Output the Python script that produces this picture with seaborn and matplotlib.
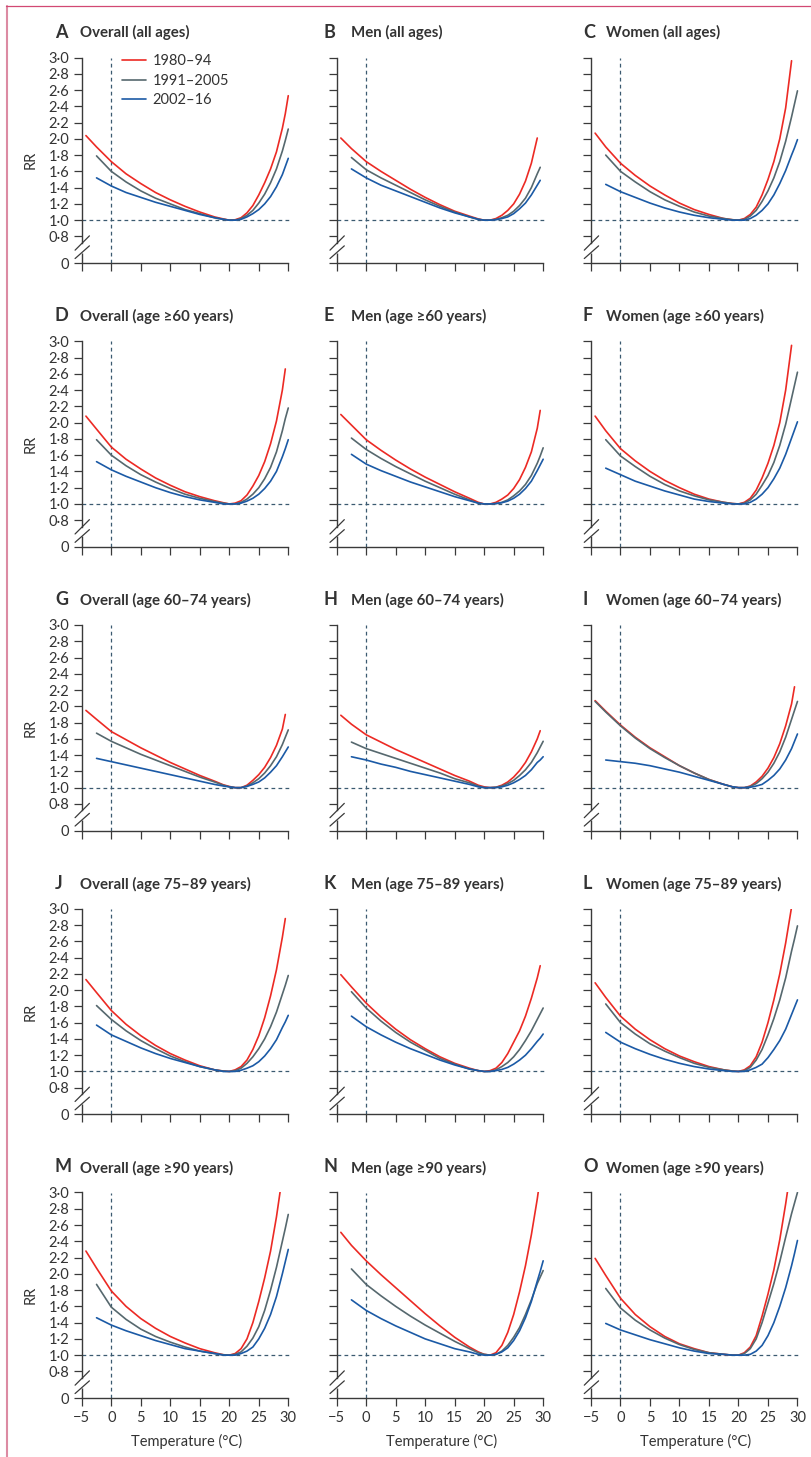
import numpy as np
import pandas as pd
import matplotlib.pyplot as plt
import matplotlib.lines as mlines
import seaborn as sns

nan = np.nan

# temperature grid (°C) the curves were read at
temps = [-4.3, -2.5, 0, 2.5, 5, 7.5, 10, 12.5, 15, 17.5, 19, 20, 21, 22, 23, 24, 25, 26, 27, 28, 29, 29.5, 30]
periods = ["1980–94", "1991–2005", "2002–16"]
colours = ["#ec2a24", "#56686e", "#1b5aa6"]

letters = list("ABCDEFGHIJKLMNO")
titles = [
    "Overall (all ages)", "Men (all ages)", "Women (all ages)",
    "Overall (age ≥60 years)", "Men (age ≥60 years)", "Women (age ≥60 years)",
    "Overall (age 60–74 years)", "Men (age 60–74 years)", "Women (age 60–74 years)",
    "Overall (age 75–89 years)", "Men (age 75–89 years)", "Women (age 75–89 years)",
    "Overall (age ≥90 years)", "Men (age ≥90 years)", "Women (age ≥90 years)",
]

# relative risk per period: [1980-94, 1991-2005, 2002-16]
rr_A = [
    [2.04, 1.90, 1.72, 1.57, 1.45, 1.34, 1.25, 1.17, 1.10, 1.04, 1.015, 1.00, 1.005, 1.03, 1.09, 1.18, 1.31, 1.46, 1.63, 1.84, 2.13, 2.31, 2.53],
    [nan, 1.79, 1.60, 1.47, 1.36, 1.27, 1.20, 1.13, 1.08, 1.03, 1.01, 1.00, 1.00, 1.02, 1.06, 1.12, 1.21, 1.32, 1.46, 1.63, 1.85, 1.98, 2.12],
    [nan, 1.52, 1.42, 1.34, 1.28, 1.22, 1.17, 1.12, 1.07, 1.03, 1.01, 1.00, 1.00, 1.01, 1.04, 1.08, 1.13, 1.20, 1.29, 1.41, 1.56, 1.66, 1.76],
]
rr_B = [
    [2.01, 1.88, 1.72, 1.60, 1.49, 1.38, 1.28, 1.19, 1.11, 1.05, 1.015, 1.00, 1.00, 1.02, 1.06, 1.12, 1.20, 1.32, 1.48, 1.70, 2.01, nan, nan],
    [nan, 1.77, 1.62, 1.52, 1.43, 1.34, 1.25, 1.17, 1.10, 1.04, 1.01, 1.00, 1.00, 1.01, 1.03, 1.06, 1.11, 1.18, 1.27, 1.40, 1.57, 1.65, nan],
    [nan, 1.63, 1.52, 1.43, 1.36, 1.29, 1.22, 1.15, 1.09, 1.04, 1.01, 1.00, 1.00, 1.005, 1.02, 1.04, 1.08, 1.14, 1.21, 1.31, 1.43, 1.49, nan],
]
rr_C = [
    [2.07, 1.90, 1.70, 1.55, 1.42, 1.31, 1.21, 1.13, 1.07, 1.02, 1.005, 1.00, 1.02, 1.07, 1.16, 1.31, 1.50, 1.72, 2.00, 2.38, 2.96, nan, nan],
    [nan, 1.80, 1.60, 1.47, 1.35, 1.25, 1.17, 1.10, 1.05, 1.02, 1.005, 1.00, 1.01, 1.05, 1.12, 1.23, 1.36, 1.52, 1.72, 1.97, 2.27, 2.43, 2.59],
    [nan, 1.44, 1.35, 1.28, 1.21, 1.15, 1.10, 1.06, 1.03, 1.01, 1.00, 1.00, 1.00, 1.02, 1.06, 1.12, 1.20, 1.31, 1.45, 1.61, 1.80, 1.89, 1.99],
]
rr_D = [
    [2.08, 1.92, 1.70, 1.55, 1.43, 1.32, 1.23, 1.15, 1.09, 1.04, 1.015, 1.00, 1.01, 1.04, 1.11, 1.22, 1.35, 1.52, 1.74, 2.02, 2.40, 2.66, nan],
    [nan, 1.79, 1.60, 1.47, 1.36, 1.27, 1.19, 1.12, 1.07, 1.03, 1.01, 1.00, 1.00, 1.02, 1.06, 1.12, 1.20, 1.31, 1.45, 1.64, 1.90, 2.05, 2.18],
    [nan, 1.52, 1.42, 1.34, 1.27, 1.20, 1.14, 1.09, 1.05, 1.02, 1.00, 1.00, 1.00, 1.01, 1.035, 1.07, 1.12, 1.19, 1.28, 1.40, 1.58, 1.68, 1.79],
]
rr_E = [
    [2.10, 1.97, 1.79, 1.66, 1.54, 1.43, 1.33, 1.24, 1.15, 1.07, 1.02, 1.00, 1.00, 1.02, 1.06, 1.11, 1.19, 1.30, 1.45, 1.64, 1.93, 2.15, nan],
    [nan, 1.81, 1.67, 1.56, 1.46, 1.37, 1.28, 1.20, 1.12, 1.05, 1.01, 1.00, 1.00, 1.005, 1.02, 1.05, 1.10, 1.16, 1.24, 1.35, 1.50, 1.59, 1.69],
    [nan, 1.61, 1.49, 1.41, 1.34, 1.27, 1.21, 1.15, 1.09, 1.04, 1.01, 1.00, 1.00, 1.005, 1.015, 1.035, 1.07, 1.12, 1.19, 1.28, 1.41, 1.48, 1.55],
]
rr_F = [
    [2.08, 1.90, 1.68, 1.53, 1.40, 1.29, 1.20, 1.12, 1.06, 1.02, 1.005, 1.00, 1.02, 1.07, 1.17, 1.32, 1.50, 1.72, 2.00, 2.40, 2.95, nan, nan],
    [nan, 1.79, 1.59, 1.46, 1.34, 1.24, 1.16, 1.10, 1.05, 1.02, 1.005, 1.00, 1.01, 1.05, 1.12, 1.23, 1.35, 1.51, 1.72, 1.98, 2.30, 2.46, 2.62],
    [nan, 1.44, 1.36, 1.28, 1.22, 1.16, 1.11, 1.06, 1.03, 1.01, 1.00, 1.00, 1.00, 1.02, 1.06, 1.12, 1.20, 1.31, 1.44, 1.61, 1.81, 1.91, 2.01],
]
rr_G = [
    [1.95, 1.84, 1.69, 1.59, 1.49, 1.40, 1.31, 1.23, 1.15, 1.08, 1.035, 1.015, 1.00, 1.00, 1.03, 1.09, 1.16, 1.25, 1.37, 1.52, 1.72, 1.90, nan],
    [nan, 1.67, 1.57, 1.49, 1.41, 1.34, 1.27, 1.20, 1.13, 1.07, 1.03, 1.01, 1.00, 1.00, 1.02, 1.06, 1.11, 1.18, 1.27, 1.38, 1.53, 1.62, 1.71],
    [nan, 1.36, 1.32, 1.28, 1.24, 1.20, 1.16, 1.12, 1.08, 1.04, 1.02, 1.01, 1.00, 1.00, 1.015, 1.04, 1.07, 1.12, 1.19, 1.27, 1.38, 1.44, 1.50],
]
rr_H = [
    [1.89, 1.78, 1.65, 1.56, 1.47, 1.39, 1.31, 1.23, 1.15, 1.08, 1.03, 1.01, 1.00, 1.005, 1.03, 1.07, 1.13, 1.21, 1.31, 1.44, 1.60, 1.70, nan],
    [nan, 1.56, 1.48, 1.42, 1.36, 1.30, 1.24, 1.18, 1.11, 1.06, 1.02, 1.00, 1.00, 1.005, 1.02, 1.05, 1.09, 1.15, 1.22, 1.31, 1.43, 1.50, 1.57],
    [nan, 1.38, 1.34, 1.29, 1.25, 1.20, 1.16, 1.12, 1.08, 1.04, 1.01, 1.00, 1.00, 1.00, 1.01, 1.03, 1.06, 1.10, 1.15, 1.22, 1.31, 1.34, 1.38],
]
rr_I = [
    [2.07, 1.94, 1.77, 1.62, 1.49, 1.38, 1.27, 1.18, 1.10, 1.04, 1.01, 1.00, 1.00, 1.02, 1.07, 1.14, 1.24, 1.37, 1.54, 1.76, 2.03, 2.24, nan],
    [2.06, 1.93, 1.76, 1.61, 1.48, 1.37, 1.27, 1.18, 1.10, 1.04, 1.01, 1.00, 1.00, 1.015, 1.05, 1.11, 1.19, 1.30, 1.44, 1.62, 1.84, 1.95, 2.06],
    [nan, 1.34, 1.32, 1.30, 1.27, 1.23, 1.19, 1.14, 1.09, 1.04, 1.01, 1.00, 1.00, 1.005, 1.02, 1.04, 1.09, 1.15, 1.23, 1.34, 1.48, 1.57, 1.66],
]
rr_J = [
    [2.13, 1.97, 1.75, 1.58, 1.44, 1.32, 1.22, 1.14, 1.07, 1.02, 1.005, 1.00, 1.02, 1.06, 1.14, 1.27, 1.44, 1.66, 1.93, 2.25, 2.65, 2.88, nan],
    [nan, 1.81, 1.64, 1.50, 1.38, 1.28, 1.19, 1.12, 1.06, 1.02, 1.005, 1.00, 1.01, 1.04, 1.10, 1.18, 1.28, 1.40, 1.55, 1.73, 1.95, 2.06, 2.18],
    [nan, 1.57, 1.45, 1.37, 1.29, 1.22, 1.16, 1.11, 1.06, 1.02, 1.00, 1.00, 1.00, 1.015, 1.04, 1.07, 1.12, 1.19, 1.28, 1.39, 1.54, 1.61, 1.69],
]
rr_K = [
    [2.19, 2.04, 1.84, 1.67, 1.52, 1.39, 1.28, 1.18, 1.10, 1.04, 1.01, 1.00, 1.01, 1.04, 1.11, 1.22, 1.36, 1.50, 1.68, 1.90, 2.15, 2.30, nan],
    [nan, 1.98, 1.78, 1.62, 1.48, 1.36, 1.26, 1.16, 1.09, 1.03, 1.01, 1.00, 1.00, 1.02, 1.06, 1.11, 1.18, 1.27, 1.38, 1.50, 1.64, 1.71, 1.78],
    [nan, 1.68, 1.55, 1.45, 1.36, 1.28, 1.21, 1.14, 1.08, 1.03, 1.01, 1.00, 1.00, 1.01, 1.025, 1.05, 1.09, 1.14, 1.20, 1.28, 1.37, 1.41, 1.46],
]
rr_L = [
    [2.09, 1.91, 1.68, 1.52, 1.39, 1.28, 1.19, 1.12, 1.06, 1.02, 1.005, 1.00, 1.02, 1.07, 1.18, 1.36, 1.60, 1.88, 2.20, 2.58, 3.02, nan, nan],
    [nan, 1.83, 1.60, 1.46, 1.34, 1.25, 1.17, 1.10, 1.05, 1.02, 1.005, 1.00, 1.01, 1.05, 1.14, 1.27, 1.45, 1.65, 1.88, 2.15, 2.48, 2.63, 2.79],
    [nan, 1.48, 1.36, 1.28, 1.21, 1.15, 1.10, 1.06, 1.03, 1.01, 1.00, 1.00, 1.00, 1.02, 1.05, 1.09, 1.17, 1.27, 1.38, 1.52, 1.70, 1.79, 1.88],
]
rr_M = [
    [2.28, 2.07, 1.79, 1.60, 1.45, 1.33, 1.23, 1.15, 1.08, 1.03, 1.005, 1.00, 1.02, 1.08, 1.20, 1.40, 1.66, 1.95, 2.28, 2.70, 3.20, nan, nan],
    [nan, 1.87, 1.59, 1.44, 1.32, 1.23, 1.16, 1.10, 1.05, 1.02, 1.005, 1.00, 1.01, 1.04, 1.11, 1.21, 1.35, 1.55, 1.80, 2.08, 2.40, 2.56, 2.73],
    [nan, 1.46, 1.37, 1.30, 1.24, 1.18, 1.13, 1.08, 1.05, 1.02, 1.00, 1.00, 1.00, 1.02, 1.05, 1.10, 1.20, 1.33, 1.50, 1.72, 2.00, 2.15, 2.30],
]
rr_N = [
    [2.51, 2.35, 2.16, 1.99, 1.83, 1.67, 1.51, 1.36, 1.22, 1.10, 1.04, 1.01, 1.00, 1.03, 1.12, 1.28, 1.50, 1.78, 2.10, 2.48, 2.92, 3.18, nan],
    [nan, 2.06, 1.87, 1.73, 1.60, 1.48, 1.37, 1.27, 1.17, 1.08, 1.03, 1.01, 1.00, 1.01, 1.05, 1.12, 1.22, 1.34, 1.50, 1.68, 1.88, 1.96, 2.04],
    [nan, 1.68, 1.55, 1.45, 1.36, 1.28, 1.20, 1.14, 1.08, 1.04, 1.01, 1.00, 1.00, 1.01, 1.04, 1.09, 1.18, 1.30, 1.46, 1.66, 1.91, 2.03, 2.16],
]
rr_O = [
    [2.19, 1.98, 1.70, 1.50, 1.35, 1.23, 1.14, 1.08, 1.03, 1.01, 1.00, 1.00, 1.03, 1.10, 1.24, 1.48, 1.75, 2.05, 2.42, 2.86, 3.35, nan, nan],
    [nan, 1.82, 1.58, 1.43, 1.31, 1.21, 1.13, 1.07, 1.03, 1.01, 1.00, 1.00, 1.02, 1.08, 1.20, 1.40, 1.64, 1.88, 2.15, 2.45, 2.74, 2.87, 3.00],
    [nan, 1.39, 1.31, 1.25, 1.19, 1.14, 1.09, 1.05, 1.02, 1.01, 1.00, 1.00, 1.00, 1.01, 1.05, 1.12, 1.24, 1.40, 1.60, 1.83, 2.10, 2.25, 2.41],
]
panels = [rr_A, rr_B, rr_C, rr_D, rr_E, rr_F, rr_G, rr_H, rr_I,
          rr_J, rr_K, rr_L, rr_M, rr_N, rr_O]

y_ticks = [0.8, 1.0, 1.2, 1.4, 1.6, 1.8, 2.0, 2.2, 2.4, 2.6, 2.8, 3.0]
x_ticks = [-5, 0, 5, 10, 15, 20, 25, 30]

sns.set_theme(style="white")
plt.rcParams["font.family"] = ["Lato", "DejaVu Sans"]

text_c = "#333333"
spine_c = "#3a3a3a"
dash_c = "#3b5a70"
y_bottom = 0.472  # where the "0" of the broken axis sits

W, H = 812, 1457
fig = plt.figure(figsize=(W / 100, H / 100), dpi=100)

col_left = [81.8, 336.7, 591.0]
row_top = [57.5, 341.3, 625.0, 908.8, 1192.5]
ax_w, ax_h = 210.0, 205.6
letter_x = [55, 324, 583]
title_x = [80, 351, 606]

pal = dict(zip(periods, colours))

for i, rr in enumerate(panels):
    r, c = divmod(i, 3)
    ax = fig.add_axes([col_left[c] / W, 1 - (row_top[r] + ax_h) / H, ax_w / W, ax_h / H])

    df = pd.DataFrame({
        "temp": temps * 3,
        "rr": rr[0] + rr[1] + rr[2],
        "period": np.repeat(periods, len(temps)),
    }).dropna()

    ax.axhline(1.0, color=dash_c, lw=0.9, ls=(0, (3, 2.6)), zorder=1)
    ax.axvline(0, color=dash_c, lw=0.9, ls=(0, (3, 2.6)), zorder=1)
    sns.lineplot(data=df, x="temp", y="rr", hue="period", hue_order=periods,
                 palette=pal, estimator=None, lw=1.2, legend=False, ax=ax, zorder=3)

    ax.set_xlim(-5, 30.6)
    ax.set_ylim(y_bottom, 3.0)
    ax.set_xlabel("")
    ax.set_ylabel("")

    sns.despine(ax=ax)
    for s in ["left", "bottom"]:
        ax.spines[s].set_color(spine_c)
        ax.spines[s].set_linewidth(1.0)
    ax.spines["left"].set_bounds(0.72, 3.0)
    ax.spines["bottom"].set_bounds(-5, 30)
    # lower stub of the broken y axis and the break marks
    ax.plot([-5, -5], [y_bottom, 0.60], color=spine_c, lw=1.0, clip_on=False,
            solid_capstyle="butt")
    ax.plot([-6.14, -3.71], [0.631, 0.807], color=spine_c, lw=0.9, clip_on=False)
    ax.plot([-6.14, -3.71], [0.528, 0.684], color=spine_c, lw=0.9, clip_on=False)

    ax.set_yticks([y_bottom] + y_ticks)
    ax.set_xticks(x_ticks)
    if c == 0:
        ax.set_yticklabels(["0"] + [f"{v:.1f}".replace(".", "\u00b7") for v in y_ticks])
        ax.set_ylabel("RR", fontsize=10.5, color=text_c, labelpad=8)
    else:
        ax.set_yticklabels([])
    if r == 4:
        ax.set_xticklabels([str(v).replace("-", "\u2212") for v in x_ticks])
        ax.set_xlabel("Temperature (°C)", fontsize=10.5, color=text_c, labelpad=7)
    else:
        ax.set_xticklabels([])
    ax.tick_params(axis="y", direction="out", length=5.8, width=0.9, color=spine_c,
                   labelsize=10.5, labelcolor=text_c, pad=3.2, left=True)
    ax.tick_params(axis="x", direction="out", length=6.0, width=0.9, color=spine_c,
                   labelsize=10.5, labelcolor=text_c, pad=3.0, bottom=True)

    base_y = 1 - (row_top[r] - 20) / H
    fig.text(letter_x[c] / W, base_y, letters[i], fontsize=13, fontweight="bold",
             color=text_c, va="baseline")
    fig.text(title_x[c] / W, base_y, titles[i], fontsize=10.8, fontweight="bold",
             color=text_c, va="baseline")

    if i == 0:
        handles = [mlines.Line2D([], [], color=col, lw=1.2) for col in colours]
        leg = ax.legend(handles, periods, loc="upper left", bbox_to_anchor=(0.19, 1.015),
                        frameon=False, fontsize=10.5, handlelength=1.65,
                        handletextpad=0.45, labelspacing=0.36, borderpad=0,
                        borderaxespad=0)
        for t in leg.get_texts():
            t.set_color(text_c)

# page frame (left and top rule)
fig.add_artist(mlines.Line2D([7 / W, 7 / W], [0, 1 - 5.5 / H], transform=fig.transFigure,
                             color="#dc8ba3", lw=1.5))
fig.add_artist(mlines.Line2D([6 / W, 1], [1 - 5.5 / H, 1 - 5.5 / H], transform=fig.transFigure,
                             color="#d24873", lw=0.9))

fig.savefig("out.png", dpi=100)
